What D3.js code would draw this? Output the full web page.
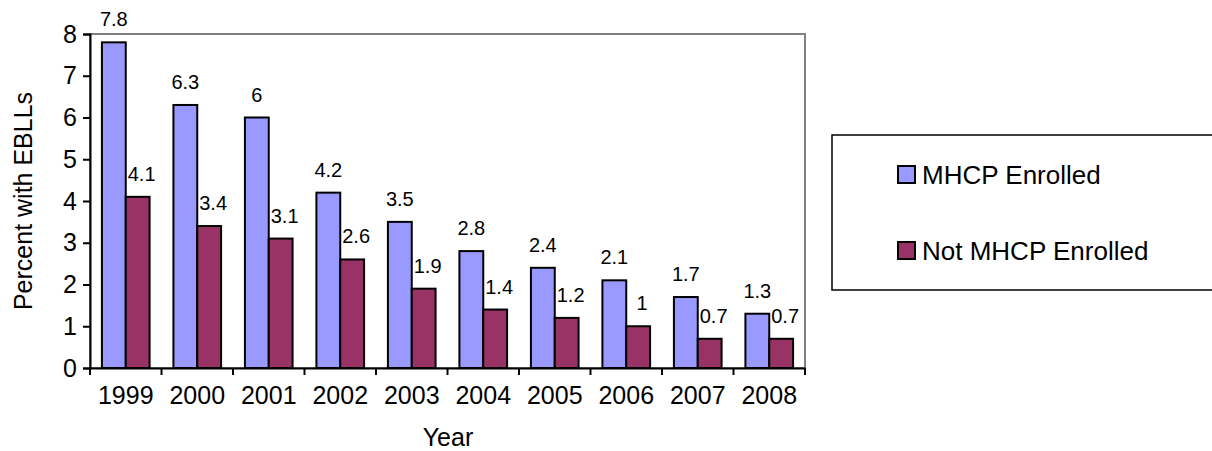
<!DOCTYPE html>
<html><head><meta charset="utf-8">
<script src="https://cdn.jsdelivr.net/npm/d3@7"></script>
<style>body{margin:0;background:#fff;font-family:"Liberation Sans",Arial,sans-serif}</style>
</head><body><div id="chart"></div>
<script>
var years = ["1999","2000","2001","2002","2003","2004","2005","2006","2007","2008"];
var enrolled = [7.8, 6.3, 6, 4.2, 3.5, 2.8, 2.4, 2.1, 1.7, 1.3];
var notEnrolled = [4.1, 3.4, 3.1, 2.6, 1.9, 1.4, 1.2, 1, 0.7, 0.7];
var seriesNames = ["MHCP Enrolled", "Not MHCP Enrolled"];
var colors = ["#9999ff", "#993366"];

var svg = d3.select("#chart").append("svg").attr("width", 1212).attr("height", 451);
var pLeft = 90, pRight = 805, pTop = 34, pBottom = 368;

var x = d3.scaleBand().domain(years).range([pLeft, pRight]);
var inner = d3.scaleBand().domain([0, 1]).range([0, x.bandwidth()]).paddingInner(0).paddingOuter(0.5);
var y = d3.scaleLinear().domain([0, 8]).range([pBottom, pTop]);

// frame
svg.append("rect").attr("x", pLeft).attr("y", pTop).attr("width", pRight - pLeft).attr("height", pBottom - pTop)
  .attr("fill", "none").attr("stroke", "#808080").attr("stroke-width", 2);

var data = years.map(function(yr, i) { return {year: yr, vals: [enrolled[i], notEnrolled[i]]}; });
var g = svg.selectAll("g.grp").data(data).enter().append("g").attr("class", "grp")
  .attr("transform", function(d) { return "translate(" + x(d.year) + ",0)"; });

g.selectAll("rect").data(function(d) { return d.vals; }).enter().append("rect")
  .attr("x", function(d, i) { return inner(i); })
  .attr("width", inner.bandwidth())
  .attr("y", function(d) { return y(d); })
  .attr("height", function(d) { return pBottom - y(d); })
  .attr("fill", function(d, i) { return colors[i]; })
  .attr("stroke", "#000").attr("stroke-width", 2);

g.selectAll("text").data(function(d) { return d.vals; }).enter().append("text")
  .attr("x", function(d, i) { return inner(i) + inner.bandwidth() / 2 + (i ? 4 : 0); })
  .attr("y", function(d) { return y(d) - 16; })
  .attr("text-anchor", "middle").attr("font-size", 20)
  .text(function(d) { return d; });

// axes
var ya = svg.append("g").attr("transform", "translate(" + pLeft + ",0)")
  .call(d3.axisLeft(y).ticks(8).tickSize(7).tickPadding(6));
ya.select(".domain").attr("stroke", "#000").attr("stroke-width", 2);
ya.selectAll("line").attr("stroke-width", 2);
ya.selectAll("text").attr("font-size", 25).attr("font-family", "Liberation Sans, Arial");

var xa = svg.append("g").attr("transform", "translate(0," + pBottom + ")")
  .call(d3.axisBottom(x).tickSize(0).tickPadding(18));
xa.select(".domain").attr("stroke", "#000").attr("stroke-width", 2);
xa.selectAll("text").attr("font-size", 25).attr("font-family", "Liberation Sans, Arial");
xa.selectAll(".b").data(years.concat([null])).enter().append("line")
  .attr("x1", function(d, i) { return pLeft + i * x.bandwidth(); })
  .attr("x2", function(d, i) { return pLeft + i * x.bandwidth(); })
  .attr("y1", 0).attr("y2", 7).attr("stroke", "#000").attr("stroke-width", 2);

svg.append("text").attr("x", 448).attr("y", 446).attr("text-anchor", "middle").attr("font-size", 25).text("Year");
svg.append("text").attr("transform", "translate(32,201) rotate(-90)").attr("text-anchor", "middle")
  .attr("font-size", 25).text("Percent with EBLLs");

// legend
svg.append("rect").attr("x", 832).attr("y", 135).attr("width", 400).attr("height", 155)
  .attr("fill", "#fff").attr("stroke", "#000").attr("stroke-width", 1.5);
var lg = svg.selectAll("g.lg").data(seriesNames).enter().append("g").attr("class", "lg")
  .attr("transform", function(d, i) { return "translate(898," + (175 + i * 76) + ")"; });
lg.append("rect").attr("x", 0).attr("y", -9).attr("width", 17).attr("height", 17)
  .attr("fill", function(d, i) { return colors[i]; }).attr("stroke", "#000").attr("stroke-width", 2);
lg.append("text").attr("x", 24).attr("y", 9).attr("font-size", 26).text(function(d) { return d; });
</script></body></html>
